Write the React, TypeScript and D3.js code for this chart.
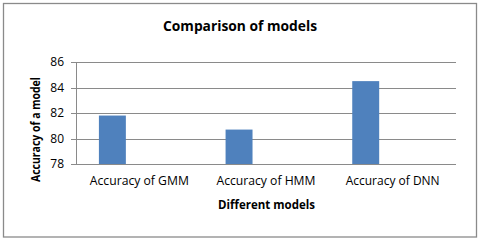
import React from 'react';
import * as d3 from 'd3';

// values
const categories = ['Accuracy of GMM', 'Accuracy of HMM', 'Accuracy of DNN'];
const seriesSlots = ['Series1', 'Series2', 'Series3']; // only the first one holds data
const accuracy = [81.8, 80.7, 84.5];
const yTicks = [78, 80, 82, 84, 86];

const W = 480;
const H = 240;
const FONT = '"Open Sans", "Noto Sans", sans-serif';
const GRID = '#8a8a8a';

const App: React.FC = () => {
  const x = d3.scaleBand<string>().domain(categories).range([76, 456]).padding(0);
  const xs = d3.scaleBand<string>().domain(seriesSlots).range([0, x.bandwidth()]).paddingInner(0).paddingOuter(0.85);
  const y = d3.scaleLinear().domain([78, 86]).range([164, 62]);

  const [x0, x1] = x.range();

  return (
    <svg width={W} height={H} style={{ position: 'absolute', left: 0, top: 0 }} fontFamily={FONT}>
      <rect x={0} y={0} width={W} height={H} fill="#fff" />
      {/* outer chart border */}
      <rect x={3.5} y={3.5} width={473} height={233.5} fill="none" stroke={GRID} strokeWidth={1.3} />

      <text x={240} y={31} textAnchor="middle" fontSize={13.5} fontWeight="bold" textLength={154} lengthAdjust="spacingAndGlyphs">
        Comparison of models
      </text>

      {/* gridlines + y ticks */}
      {yTicks.map(t => (
        <g key={t}>
          <line x1={71} x2={x1} y1={Math.round(y(t)) + 0.5} y2={Math.round(y(t)) + 0.5} stroke={GRID} strokeWidth={1} />
          <text x={64} y={y(t)} dy="0.36em" textAnchor="end" fontSize={12} fill="#000">
            {t}
          </text>
        </g>
      ))}

      {/* bars */}
      {categories.map((c, i) => (
        <rect
          key={c}
          x={(x(c) ?? 0) + (xs(seriesSlots[0]) ?? 0)}
          y={y(accuracy[i])}
          width={xs.bandwidth()}
          height={y(78) - y(accuracy[i])}
          fill="#4f81bd"
        />
      ))}

      {/* axis lines */}
      <line x1={x0 + 0.5} x2={x0 + 0.5} y1={y(86)} y2={y(78)} stroke={GRID} strokeWidth={1} />
      <line x1={x0} x2={x1} y1={Math.round(y(78)) + 0.5} y2={Math.round(y(78)) + 0.5} stroke={GRID} strokeWidth={1} />

      {/* category labels */}
      {categories.map(c => (
        <text key={c} x={(x(c) ?? 0) + x.bandwidth() / 2} y={185} textAnchor="middle" fontSize={12} textLength={c.includes('DNN') ? 94 : 99} lengthAdjust="spacingAndGlyphs">
          {c}
        </text>
      ))}

      <text x={266.5} y={208.5} textAnchor="middle" fontSize={12} fontWeight="bold" textLength={97} lengthAdjust="spacingAndGlyphs">
        Different models
      </text>

      <text transform="translate(40,129.5) rotate(-90)" textAnchor="middle" fontSize={11.5} fontWeight="bold" textLength={105} lengthAdjust="spacingAndGlyphs">
        Accuracy of a model
      </text>
    </svg>
  );
};

export default App;
